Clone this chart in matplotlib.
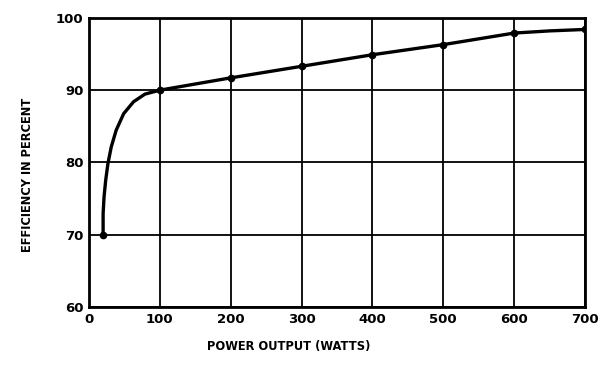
import matplotlib
matplotlib.use("Agg")
import matplotlib.pyplot as plt

# measured data points (dots)
power_pts = [20, 100, 200, 300, 400, 500, 600, 700]
eff_pts = [70.0, 90.0, 91.7, 93.3, 94.9, 96.3, 97.9, 98.4]

# curve
curve_power = [20, 20, 21.3, 23.6, 26.8, 31.5, 38.4, 49, 63, 79, 100,
               200, 300, 400, 500, 600, 650, 700]
curve_eff = [70.0, 72.9, 75.2, 77.5, 79.85, 82.15, 84.45, 86.75, 88.4, 89.45, 90.0,
             91.7, 93.3, 94.9, 96.3, 97.9, 98.2, 98.4]

x_ticks = [0, 100, 200, 300, 400, 500, 600, 700]
y_ticks = [60, 70, 80, 90, 100]

fig = plt.figure(figsize=(6.05, 3.65), dpi=100)
ax = fig.add_axes([0.147, 0.159, 0.820, 0.792])

font = dict(family="DejaVu Sans", weight="bold")

ax.plot(curve_power, curve_eff, color="black", lw=2.4, solid_capstyle="round", zorder=3)
ax.plot(power_pts, eff_pts, "o", color="black", ms=4.5, zorder=4)

ax.set_xlim(0, 700)
ax.set_ylim(60, 100)
ax.set_xticks(x_ticks)
ax.set_yticks(y_ticks)
ax.set_xticklabels([str(t) for t in x_ticks], fontsize=9.5, **font)
ax.set_yticklabels([str(t) for t in y_ticks], fontsize=9.5, **font)
ax.tick_params(length=0, pad=4)
ax.grid(True, color="black", lw=1.3)
ax.set_axisbelow(True)
for s in ax.spines.values():
    s.set_linewidth(2)
    s.set_color("black")

ax.set_xlabel("POWER OUTPUT (WATTS)", fontsize=8.3, **font)
ax.set_ylabel("EFFICIENCY IN PERCENT", fontsize=8.3, **font)
ax.xaxis.set_label_coords(0.403, -0.115)
ax.yaxis.set_label_coords(-0.111, 0.457)

fig.savefig("out.png", dpi=100)
